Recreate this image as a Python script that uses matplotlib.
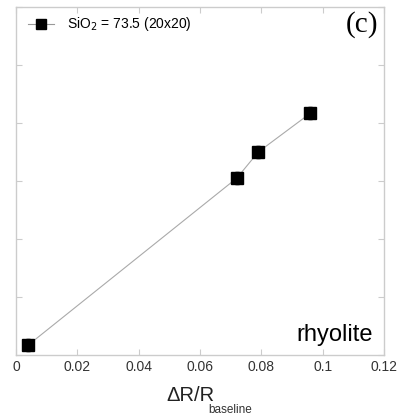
import numpy as np
import matplotlib.pyplot as plt

plt.rcParams['font.family'] = ['Liberation Sans', 'DejaVu Sans']

# data
dr = [0.004, 0.072, 0.079, 0.096]
yval = [0.17, 3.05, 3.5, 4.17]
xerr = [0.0015, 0.0015, 0.0015, 0.0015]
yerr = [0.12, 0.12, 0.12, 0.12]
xticks = [0, 0.02, 0.04, 0.06, 0.08, 0.1, 0.12]
xtick_labels = ['0', '0.02', '0.04', '0.06', '0.08', '0.1', '0.12']
label = 'SiO$_2$ = 73.5 (20x20)'

fig = plt.figure(figsize=(4, 4.19), dpi=100)
ax = fig.add_axes([0.04, 0.153, 0.92, 0.830])

ax.errorbar(dr, yval, xerr=xerr, yerr=yerr, fmt='none', ecolor='#bbbbbb',
            elinewidth=0.6, capsize=1.5, capthick=0.6, zorder=1)
ax.plot(dr, yval, '-', color='#aaaaaa', lw=0.8, zorder=2)
ax.plot([], [], '-s', color='#999999', mfc='black', mec='black', ms=7,
        lw=0.8, label=label)
ax.plot(dr, yval, 's', color='black', ms=8, zorder=3)

ax.set_xlim(0, 0.12)
ax.set_ylim(0, 6)
ax.set_xticks(xticks)
ax.set_xticklabels(xtick_labels, fontsize=10, color='#333333')
ax.set_yticks(range(7))
ax.set_yticklabels([])
ax.tick_params(direction='in', length=4, color='#cccccc', top=True, right=True)
for s in ax.spines.values():
    s.set_color('#cccccc')
    s.set_linewidth(1)

# x label built from two pieces so the subscript keeps its own size
fig.text(0.537, 0.043, '\u0394R/R', ha='right', va='baseline', fontsize=14.5,
         color='#222222')
fig.text(0.52, 0.015, 'baseline', ha='left', va='baseline', fontsize=8.5,
         color='#333333')

leg = ax.legend(loc='upper left', bbox_to_anchor=(0.01, 1.0), frameon=False,
                fontsize=10, handlelength=1.9, borderaxespad=0.2,
                handletextpad=0.9)

ax.text(0.985, 0.99, '(c)', transform=ax.transAxes, ha='right', va='top',
        fontsize=21, family='Liberation Serif')
ax.text(0.97, 0.025, 'rhyolite', transform=ax.transAxes, ha='right',
        va='bottom', fontsize=17)

fig.savefig('out.png', dpi=100)
